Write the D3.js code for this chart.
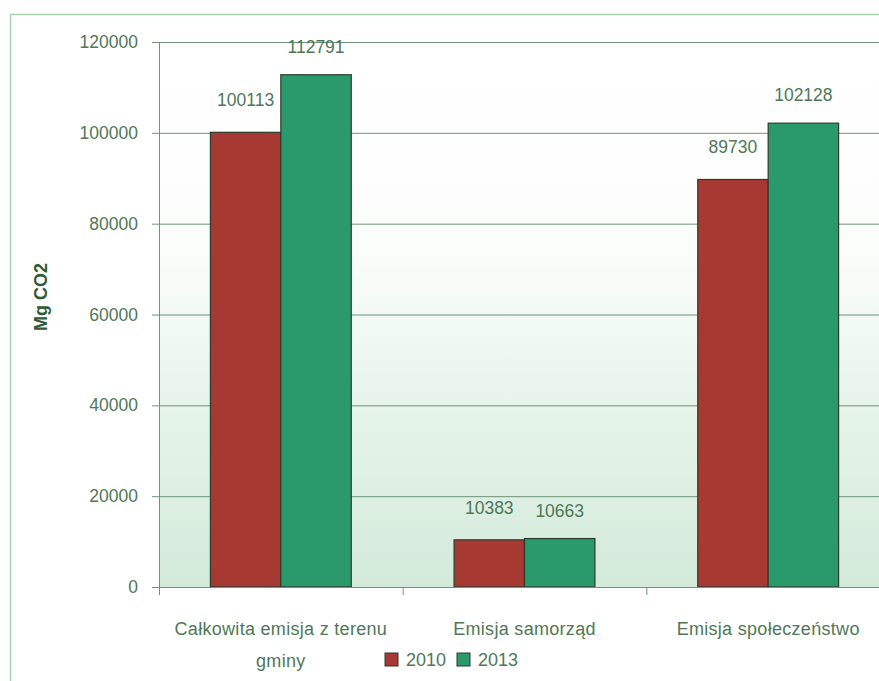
<!DOCTYPE html>
<html>
<head>
<meta charset="utf-8">
<script src="https://cdn.jsdelivr.net/npm/d3@7"></script>
<style>
  body { margin: 0; background: #fff; }
  svg { display: block; font-family: "Liberation Sans", Arial, sans-serif; }
</style>
</head>
<body>
<div id="app"></div>
<script>
// dane wykresu
const categories = [["Całkowita emisja z terenu", "gminy"], ["Emisja samorząd"], ["Emisja społeczeństwo"]];
const years = ["2010", "2013"];
const values2010 = [100113, 10383, 89730];
const values2013 = [112791, 10663, 102128];
const yTicks = [0, 20000, 40000, 60000, 80000, 100000, 120000];

const W = 879, H = 681;
const colors = ["#a63a33", "#2a9a6c"];
const textColor = "#4f7858";
const gridColor = "#6f9479";

const svg = d3.select("#app").append("svg")
    .attr("width", W)
    .attr("height", H);

// gradient tła obszaru wykresu
const defs = svg.append("defs");
const grad = defs.append("linearGradient")
    .attr("id", "bg").attr("x1", 0).attr("y1", 0).attr("x2", 0).attr("y2", 1);
grad.append("stop").attr("offset", "0%").attr("stop-color", "#ffffff");
grad.append("stop").attr("offset", "38%").attr("stop-color", "#fbfdfb");
grad.append("stop").attr("offset", "70%").attr("stop-color", "#e4f3e8");
grad.append("stop").attr("offset", "100%").attr("stop-color", "#d3eadb");

// ramka zewnętrzna
svg.append("rect")
    .attr("x", 10.5).attr("y", 14.5)
    .attr("width", W + 20).attr("height", H + 20)
    .attr("fill", "#fff")
    .attr("stroke", "#a6d3ad")
    .attr("stroke-width", 1.5);

const plot = { left: 159, top: 42, right: 890, bottom: 587 };

const x = d3.scaleBand()
    .domain(d3.range(categories.length))
    .range([plot.left, plot.right]);
const xSub = d3.scaleBand()
    .domain(years)
    .range([0, x.bandwidth()])
    .paddingOuter(0.73);
const y = d3.scaleLinear()
    .domain([0, 120000])
    .range([plot.bottom, plot.top]);

svg.append("rect")
    .attr("x", plot.left).attr("y", plot.top)
    .attr("width", plot.right - plot.left).attr("height", plot.bottom - plot.top)
    .attr("fill", "url(#bg)");

// linie siatki i oś Y
const yAxis = svg.append("g")
    .attr("transform", `translate(${plot.left},0)`)
    .call(d3.axisLeft(y).tickValues(yTicks).tickSize(7).tickPadding(14).tickFormat(d3.format("d")));
yAxis.select(".domain").attr("stroke", gridColor).attr("stroke-width", 1);
yAxis.selectAll(".tick line").attr("stroke", gridColor);
yAxis.selectAll(".tick text")
    .attr("fill", textColor)
    .style("font-size", "17.5px");

svg.append("g")
    .selectAll("line")
    .data(yTicks.filter(d => d > 0))
    .join("line")
    .attr("x1", plot.left).attr("x2", plot.right)
    .attr("y1", d => y(d) + 0.5).attr("y2", d => y(d) + 0.5)
    .attr("stroke", gridColor)
    .attr("stroke-width", 1);

// słupki
const series = [values2010, values2013];
const group = svg.append("g");
years.forEach((yr, si) => {
    group.selectAll(".bar" + si)
        .data(series[si])
        .join("rect")
        .attr("x", (d, i) => x(i) + xSub(yr))
        .attr("y", d => y(d))
        .attr("width", xSub.bandwidth())
        .attr("height", d => plot.bottom - y(d))
        .attr("fill", colors[si])
        .attr("stroke", "#2f3a2c")
        .attr("stroke-width", 1.2);

    group.selectAll(".lab" + si)
        .data(series[si])
        .join("text")
        .attr("x", (d, i) => x(i) + xSub(yr) + xSub.bandwidth() / 2)
        .attr("y", d => y(d) - (si === 0 ? 26 : 22))
        .attr("text-anchor", "middle")
        .attr("fill", textColor)
        .style("font-size", "17.5px")
        .text(d => d);
});

// oś X
svg.append("line")
    .attr("x1", plot.left).attr("x2", plot.right)
    .attr("y1", plot.bottom + 0.5).attr("y2", plot.bottom + 0.5)
    .attr("stroke", gridColor);
svg.append("g")
    .selectAll("line")
    .data(d3.range(categories.length))
    .join("line")
    .attr("x1", i => x(i) + 0.5).attr("x2", i => x(i) + 0.5)
    .attr("y1", plot.bottom).attr("y2", plot.bottom + 8)
    .attr("stroke", gridColor);

svg.append("g")
    .selectAll("text")
    .data(categories)
    .join("text")
    .attr("x", (d, i) => x(i) + x.bandwidth() / 2)
    .attr("y", 635)
    .attr("text-anchor", "middle")
    .attr("fill", textColor)
    .style("font-size", "18px")
    .style("letter-spacing", "0.3px")
    .selectAll("tspan")
    .data(d => d)
    .join("tspan")
    .attr("x", function () { return d3.select(this.parentNode).attr("x"); })
    .attr("dy", (d, i) => i === 0 ? 0 : 32)
    .text(d => d);

// tytuł osi Y
svg.append("text")
    .attr("transform", "translate(47,297) rotate(-90)")
    .attr("text-anchor", "middle")
    .attr("fill", "#2f5a39")
    .style("font-size", "18px")
    .style("font-weight", "bold")
    .text("Mg CO2");

// legenda
const legend = svg.append("g");
const legX = [385, 457];
years.forEach((yr, i) => {
    legend.append("rect")
        .attr("x", legX[i]).attr("y", 653)
        .attr("width", 13).attr("height", 13)
        .attr("fill", colors[i])
        .attr("stroke", "#2f3a2c")
        .attr("stroke-width", 1);
    legend.append("text")
        .attr("x", legX[i] + 21).attr("y", 666)
        .attr("fill", textColor)
        .style("font-size", "18px")
        .text(yr);
});
</script>
</body>
</html>
